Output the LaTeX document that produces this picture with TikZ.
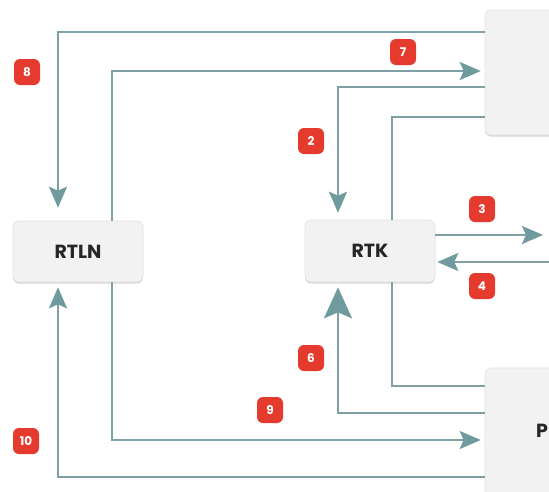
\documentclass[tikz,border=0pt]{standalone}
\usepackage{fontspec}
\setmainfont{Poppins}
\usetikzlibrary{arrows.meta,calc,shadows}
\definecolor{linec}{HTML}{7FA0A4}
\definecolor{tipc}{HTML}{6F9A9E}
\definecolor{boxfill}{HTML}{F2F2F2}
\definecolor{boxline}{HTML}{E2E2E2}
\definecolor{badge}{HTML}{E53B2F}
\tikzset{
  box/.style={draw=boxline, line width=0.6pt, fill=boxfill, rounded corners=6pt,
    drop shadow={shadow xshift=0pt, shadow yshift=-1.5pt, opacity=0.35, fill=black!45},
    font=\bfseries\fontsize{19}{22}\selectfont, text=black!85, inner sep=0pt},
  conn/.style={draw=linec, line width=2.3pt},
  arr/.style={conn, -{Stealth[length=21pt, width=18pt, inset=4pt, color=tipc]}},
  bigarr/.style={conn, -{Stealth[length=31pt, width=28pt, inset=6pt, color=tipc]}},
  badgelbl/.style={fill=badge, rounded corners=6pt, minimum width=26pt, minimum height=26pt,
    inner sep=0pt, text=white, font=\bfseries\fontsize{12}{14}\selectfont},
}
\begin{document}
\begin{tikzpicture}[x=1pt,y=-1pt]
\useasboundingbox[fill=white] (0,0) rectangle (549,491);
% boxes
\node[box, minimum width=130pt, minimum height=61pt] (rtln) at (78,251.5) {RTLN};
\node[box, minimum width=130pt, minimum height=62pt] (rtk) at (370,251) {RTK};
\node[box, minimum width=80pt, minimum height=125pt] (topbox) at (525,72.5) {};
\node[box, minimum width=80pt, minimum height=130pt] (botbox) at (525,433) {};
\node[font=\bfseries\fontsize{19}{22}\selectfont, text=black!85, anchor=west, inner sep=0pt] (ptext) at (536,431) {P};
% free ends
\coordinate (r3) at (549,235);
\coordinate (r4) at (549,262);
% connectors
\draw[arr, shorten >=13pt] ($(topbox.west)+(0,-40.5)$) -| ($(rtln.north)+(-20,0)$);
\draw[arr, shorten >=4pt] ($(rtln.north)+(34,0)$) |- ($(topbox.west)+(0,-1.5)$);
\draw[arr, shorten >=7pt] ($(topbox.west)+(0,14.5)$) -| ($(rtk.north)+(-32,0)$);
\draw[conn] ($(rtk.north)+(22,0)$) |- ($(topbox.west)+(0,44.5)$);
\draw[arr, shorten >=6pt] ($(rtk.east)+(0,-16)$) -- (r3);
\draw[arr, shorten >=2pt] (r4) -- ($(rtk.east)+(0,11)$);
\draw[conn] ($(rtk.south)+(22,0)$) |- ($(botbox.west)+(0,-47)$);
\draw[bigarr, shorten >=5pt] ($(botbox.west)+(0,-20)$) -| ($(rtk.south)+(-32,0)$);
\draw[arr, shorten >=4pt] ($(rtln.south)+(34,0)$) |- ($(botbox.west)+(0,7)$);
\draw[arr, shorten >=5pt] ($(botbox.west)+(0,44)$) -| ($(rtln.south)+(-20,0)$);
% badges
\node[badgelbl] (b8) at (27,72) {8};
\node[badgelbl] (b7) at (403,52) {7};
\node[badgelbl] (b2) at (311,141) {2};
\node[badgelbl] (b3) at (482,209) {3};
\node[badgelbl] (b4) at (482,286) {4};
\node[badgelbl] (b6) at (311,358) {6};
\node[badgelbl] (b9) at (270,410) {9};
\node[badgelbl] (b10) at (26,441) {10};
\end{tikzpicture}
\end{document}
